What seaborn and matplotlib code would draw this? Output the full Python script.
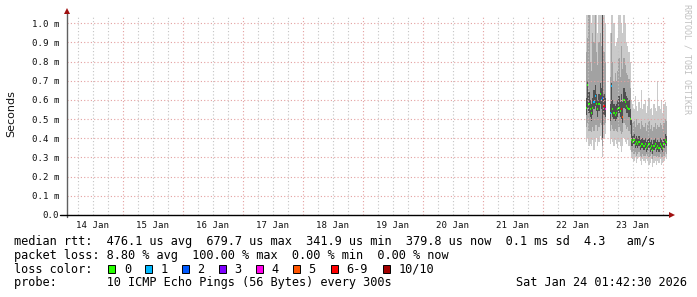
import numpy as np
import pandas as pd
import matplotlib
matplotlib.use("Agg")
import matplotlib.pyplot as plt
import matplotlib.dates as mdates
from matplotlib.patches import Rectangle
from matplotlib.ticker import FixedLocator, FuncFormatter, NullFormatter
import seaborn as sns
from datetime import datetime

sns.set_style("white")
plt.rcParams['font.family'] = ['DejaVu Sans Mono', 'DejaVu Sans']

nan = np.nan

# ---------------- data (values in ms) ----------------
times = pd.date_range("2026-01-22 17:30", "2026-01-24 01:30", freq="30min")

median = [0.56, 0.68, 0.58, 0.55, 0.53, 0.56, 0.59, 0.62, 0.58, 0.55, 0.58, 0.63, 0.60, 0.61, 0.57, 0.55,
          nan, nan, nan,
          0.53, 0.67, 0.55, 0.53, 0.52, 0.53, 0.55, 0.56, 0.54, 0.55, 0.51, 0.60, 0.59, 0.57, 0.56, 0.55, 0.50,
          0.39, 0.38, 0.39, 0.37, 0.38, 0.37, 0.38, 0.36, 0.37, 0.37, 0.36, 0.37, 0.35, 0.36, 0.37, 0.35,
          0.36, 0.34, 0.36, 0.37, 0.35, 0.36, 0.35, 0.37, 0.36, 0.35, 0.37, 0.39, 0.38]

loss = [0, 0, 0, 0, 0, 0, 1, 1, 0, 0, 0, 0, 1, 2, 6, 4,
        10, 10, 10,
        1, 1, 0, 0, 0, 0, 0, 0, 0, 7, 5, 0, 0, 0, 0, 0, 0,
        0, 0, 0, 0, 0, 0, 0, 0, 0, 0, 0, 0, 0, 0, 0, 0,
        0, 0, 0, 0, 0, 0, 0, 0, 0, 0, 0, 0, 0]

smoke_min = [0.38, 0.40, 0.36, 0.37, 0.36, 0.39, 0.34, 0.38, 0.40, 0.36, 0.38, 0.41, 0.39, 0.30, 0.40, 0.42,
             nan, nan, nan,
             0.37, 0.40, 0.38, 0.36, 0.39, 0.37, 0.35, 0.38, 0.36, 0.33, 0.36, 0.40, 0.38, 0.37, 0.39, 0.36, 0.34,
             0.30, 0.29, 0.28, 0.30, 0.27, 0.29, 0.30, 0.28, 0.26, 0.29, 0.28, 0.27, 0.29, 0.28, 0.26, 0.27,
             0.29, 0.25, 0.27, 0.28, 0.26, 0.28, 0.27, 0.29, 0.26, 0.27, 0.28, 0.30, 0.29]
smoke_q2 = [0.46, 0.48, 0.44, 0.44, 0.43, 0.46, 0.44, 0.47, 0.47, 0.44, 0.46, 0.48, 0.47, 0.36, 0.47, 0.48,
            nan, nan, nan,
            0.44, 0.47, 0.45, 0.44, 0.45, 0.44, 0.43, 0.46, 0.44, 0.42, 0.43, 0.48, 0.47, 0.45, 0.46, 0.44, 0.42,
            0.33, 0.33, 0.32, 0.33, 0.31, 0.32, 0.33, 0.31, 0.30, 0.32, 0.31, 0.31, 0.32, 0.31, 0.30, 0.31,
            0.32, 0.29, 0.31, 0.31, 0.30, 0.31, 0.30, 0.32, 0.30, 0.30, 0.31, 0.33, 0.32]
smoke_q4 = [0.52, 0.56, 0.53, 0.51, 0.49, 0.52, 0.55, 0.57, 0.54, 0.51, 0.54, 0.58, 0.55, 0.40, 0.52, 0.51,
            nan, nan, nan,
            0.49, 0.53, 0.51, 0.50, 0.49, 0.50, 0.51, 0.53, 0.51, 0.50, 0.48, 0.56, 0.55, 0.53, 0.53, 0.51, 0.47,
            0.36, 0.36, 0.37, 0.35, 0.36, 0.35, 0.36, 0.34, 0.35, 0.35, 0.34, 0.35, 0.33, 0.34, 0.35, 0.33,
            0.34, 0.32, 0.34, 0.35, 0.33, 0.34, 0.33, 0.35, 0.34, 0.33, 0.35, 0.37, 0.36]
smoke_q6 = [0.61, 0.70, 0.64, 0.60, 0.58, 0.61, 0.65, 0.68, 0.63, 0.60, 0.63, 0.69, 0.66, 1.20, 0.63, 0.61,
            nan, nan, nan,
            0.58, 0.69, 0.60, 0.58, 0.57, 0.58, 0.60, 0.62, 0.59, 0.63, 0.59, 0.66, 0.64, 0.62, 0.61, 0.60, 0.55,
            0.50, 0.41, 0.42, 0.40, 0.41, 0.40, 0.41, 0.39, 0.40, 0.40, 0.39, 0.40, 0.38, 0.39, 0.40, 0.38,
            0.39, 0.37, 0.39, 0.40, 0.38, 0.39, 0.38, 0.40, 0.39, 0.38, 0.40, 0.42, 0.41]
smoke_q8 = [0.85, 0.92, 1.20, 0.80, 0.75, 0.95, 0.90, 1.20, 0.85, 0.78, 0.90, 0.95, 0.88, 1.20, 0.85, 0.80,
            nan, nan, nan,
            0.72, 0.95, 0.80, 0.70, 0.74, 0.70, 0.75, 0.82, 0.72, 0.88, 0.76, 0.82, 0.78, 0.74, 0.73, 0.71, 0.66,
            0.50, 0.48, 0.49, 0.46, 0.50, 0.47, 0.48, 0.45, 0.49, 0.47, 0.46, 0.48, 0.44, 0.47, 0.49, 0.45,
            0.47, 0.44, 0.46, 0.48, 0.45, 0.47, 0.46, 0.48, 0.47, 0.45, 0.48, 0.50, 0.49]
smoke_max = [1.20, 1.20, 1.20, 1.10, 1.00, 1.20, 1.20, 1.20, 1.20, 0.95, 1.20, 1.20, 1.20, 1.20, 1.20, 1.00,
             nan, nan, nan,
             0.95, 1.20, 1.20, 1.00, 0.88, 0.90, 0.92, 1.20, 1.20, 1.00, 0.95, 1.20, 1.00, 0.90, 0.88, 0.85, 0.80,
             0.60, 0.58, 0.55, 0.62, 0.57, 0.54, 0.59, 0.56, 0.65, 0.55, 0.58, 0.60, 0.53, 0.57, 0.61, 0.55,
             0.56, 0.52, 0.58, 0.56, 0.54, 0.70, 0.57, 0.55, 0.60, 0.53, 0.58, 0.59, 0.57]

loss_labels = ["0", "1", "2", "3", "4", "5", "6-9", "10/10"]
loss_colors = ["#26ff00", "#00b8ff", "#0059ff", "#7e00ff", "#ff00ea", "#ff5500", "#ff0000", "#a10000"]
smoke_colors = ["#cacaca", "#a2a2a2", "#505050"]

t_start = datetime(2026, 1, 14, 1, 42, 30)
t_end = datetime(2026, 1, 24, 1, 42, 30)

# ---------------- figure ----------------
W, H = 697, 297
fig = plt.figure(figsize=(W / 100, H / 100), dpi=100)
fig.patch.set_facecolor("white")


def fx(x):
    return x / W


def fy(y):
    return 1 - y / H


ax = fig.add_axes([fx(67), fy(215), 600 / W, 200.5 / H])
ax.set_facecolor("white")
ytop = 1.045

tn = mdates.date2num(times.to_pydatetime())
bw = 1 / 48

for (lo, hi), col in zip([(smoke_min, smoke_max), (smoke_q2, smoke_q8), (smoke_q4, smoke_q6)], smoke_colors):
    lo = np.asarray(lo, float)
    hi = np.asarray(hi, float)
    ok = ~np.isnan(lo)
    ax.bar(tn[ok], hi[ok] - lo[ok], bottom=lo[ok], width=bw, color=col,
           linewidth=0, antialiased=False, zorder=1)

med = np.asarray(median, float)
ls = np.asarray(loss)
cat = np.where(ls >= 10, 7, np.where(ls >= 6, 6, ls))
mh = 2 * ytop / 200.5
ok = ~np.isnan(med)
ax.bar(tn[ok], np.full(ok.sum(), mh), bottom=med[ok] - mh / 2, width=bw,
       color=[loss_colors[c] for c in cat[ok]], linewidth=0, antialiased=False, zorder=1.5)

ax.set_xlim(t_start, t_end)
ax.set_ylim(0, ytop)

# x axis: midnight major grid, 6h minor grid, labels at noon
ax.xaxis.set_major_locator(mdates.DayLocator())
ax.xaxis.set_minor_locator(mdates.HourLocator(byhour=[6, 12, 18]))
ax.xaxis.set_major_formatter(NullFormatter())


def noon_fmt(v, p):
    d = mdates.num2date(v)
    return d.strftime("%d %b") if d.hour == 12 else ""


ax.xaxis.set_minor_formatter(FuncFormatter(noon_fmt))

yt = [round(i * 0.1, 1) for i in range(11)]
ax.yaxis.set_major_locator(FixedLocator(yt))
ax.yaxis.set_major_formatter(FuncFormatter(lambda v, p: "0.0" if abs(v) < 1e-9 else f"{v:.1f} m"))

dots = (0, (1, 2))
ax.grid(which="major", axis="x", color="#e4a0a0", linestyle=dots, linewidth=0.8)
ax.grid(which="minor", axis="x", color="#c4c4c4", linestyle=dots, linewidth=0.8)
ax.grid(which="major", axis="y", color="#e4a0a0", linestyle=dots, linewidth=0.8)
ax.set_axisbelow(False)

ax.tick_params(axis="y", which="major", length=2, width=0.8, color="#777777", pad=3.5,
               labelsize=6.6, labelcolor="#111111")
ax.tick_params(axis="x", which="major", length=3, width=0.8, color="#333333", direction="out")
ax.tick_params(axis="x", which="minor", length=0, pad=4.5, labelsize=6.6, labelcolor="#111111")
for lab in ax.get_yticklabels() + ax.get_xticklabels(minor=True):
    lab.set_family("DejaVu Sans Mono")

for s in ax.spines.values():
    s.set_visible(False)

# axis lines with arrows
ax.plot([0, 0], [-0.01, 1.015], transform=ax.transAxes, color="#606060", lw=1, clip_on=False, zorder=3)
ax.plot([-0.012, 1.005], [0, 0], transform=ax.transAxes, color="#000000", lw=1, clip_on=False, zorder=3)
ax.plot([0], [1.018], transform=ax.transAxes, marker="^", ms=4, color="#a01010", clip_on=False, zorder=4, mew=0)
ax.plot([1.008], [0], transform=ax.transAxes, marker=">", ms=4, color="#a01010", clip_on=False, zorder=4, mew=0)

fig.text(fx(11), fy(113.7), "Seconds", rotation=90, ha="center", va="center",
         fontsize=8, family="DejaVu Sans", color="#111111")
fig.text(fx(686.5), fy(4), "RRDTOOL / TOBI OETIKER", rotation=270, ha="center", va="top",
         fontsize=6, family="DejaVu Sans Mono", color="#c0c0c0")

# ---------------- legend texts ----------------
mono = dict(family="DejaVu Sans Mono", fontsize=8.6, color="#000000", va="center", ha="left")
fig.text(fx(14), fy(241.7), "median rtt:  476.1 us avg  679.7 us max  341.9 us min  379.8 us now  0.1 ms sd  4.3   am/s", **mono)
fig.text(fx(14), fy(255.3), "packet loss: 8.80 % avg  100.00 % max  0.00 % min  0.00 % now", **mono)
fig.text(fx(14), fy(269.3), "loss color:", **mono)
fig.text(fx(14), fy(282.7), "probe:       10 ICMP Echo Pings (56 Bytes) every 300s", **mono)
fig.text(fx(516), fy(282.7), "Sat Jan 24 01:42:30 2026", **mono)

box_x = [108.3, 145.2, 182.0, 219.0, 256.0, 293.0, 330.5, 383.0]
for bx, lab, col in zip(box_x, loss_labels, loss_colors):
    fig.add_artist(Rectangle((fx(bx), fy(272.8)), 7 / W, 7.5 / H, transform=fig.transFigure,
                             facecolor=col, edgecolor="#000000", linewidth=0.7))
    fig.text(fx(bx + 15.5), fy(269.3), lab, **mono)

fig.savefig("out.png", dpi=100, facecolor="white")
